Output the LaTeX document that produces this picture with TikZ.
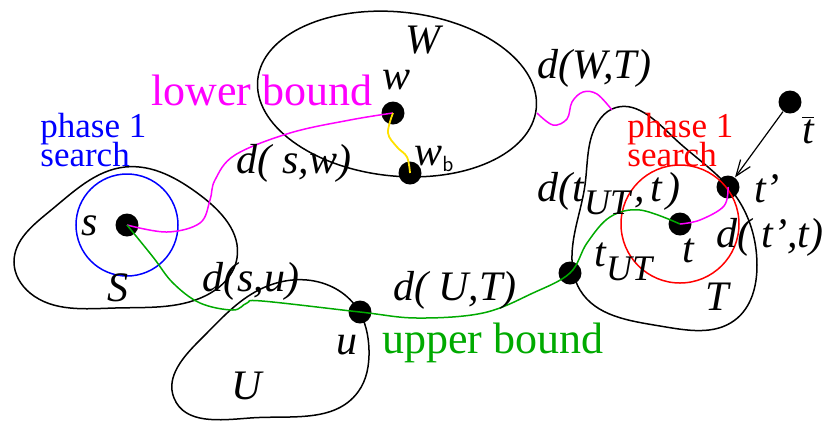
\documentclass[tikz,border=0pt]{standalone}
\usepackage{fontspec}
\setmainfont{Liberation Serif}
\usetikzlibrary{arrows.meta, positioning, hobby}
\definecolor{lowcol}{RGB}{255, 0, 255}
\definecolor{upcol}{RGB}{0, 170, 0}
\definecolor{srccol}{RGB}{0, 0, 255}
\definecolor{tgtcol}{RGB}{255, 0, 0}
\definecolor{bndcol}{RGB}{255, 225, 0}

\begin{document}
\begin{tikzpicture}[
  x=0.5pt, y=-0.5pt,
  use Hobby shortcut,
  region/.style={draw=black, line width=0.75pt},
  vertex/.style={circle, fill=black, inner sep=0pt, minimum size=11.5pt},
  lbl/.style={font=\fontsize{21}{21}\selectfont\itshape, inner sep=0pt},
  word/.style={font=\fontsize{22}{22}\selectfont, inner sep=0pt},
  phase/.style={font=\fontsize{17.5}{11}\selectfont,
                align=left, inner sep=0pt, anchor=north west},
  lowpath/.style={draw=lowcol, line width=0.75pt},
  uppath/.style={draw=upcol, line width=0.75pt},
  arrow/.style={-{Straight Barb[length=8pt, width=6pt]}, line width=0.6pt},
]
  \useasboundingbox (0,0) rectangle (827,420);

  % Regions
  \draw[region, closed=true] (125,167) .. (200,195) .. (237,258) .. (205,296)
    .. (115,308) .. (30,293) .. (14,262) .. (50,211);
  \draw[region, rotate around={-6:(397,94)}] (397,94) ellipse (70pt and 41pt);
  \draw[region, closed=true] (307,280) .. (357,308) .. (369,350) .. (358,392)
    .. (250,418) .. (174,398) .. (200,340) .. (255,292);
  \draw[region, closed=true] (612,109) .. (673,137) .. (735,195) .. (757,265)
    .. (735,320) .. (660,326) .. (580,290) .. (572,255) .. (585,185)
    .. (598,122);

  % Vertices
  \node[vertex] (s) at (127,225) {};
  \node[vertex] (w) at (393,113) {};
  \node[vertex] (wb) at (410,173) {};
  \node[vertex] (u) at (360,312) {};
  \node[vertex] (tut) at (570,273) {};
  \node[vertex] (t) at (680,224) {};
  \node[vertex] (tp) at (728,187) {};
  \node[vertex] (tbar) at (790,102) {};

  % Phase 1 searches
  \draw[srccol, line width=0.75pt] (s.center) circle (25.5pt);
  \draw[tgtcol, line width=0.75pt] (t.center) circle (29.5pt);
  \node[phase, text=srccol] (srcph) at (40,113) {phase 1\\[-2.3pt]search};
  \node[phase, text=tgtcol] (tgtph) at (627,113) {phase 1\\[-2.3pt]search};

  % Lower bound
  \draw[lowpath] plot[smooth, tension=0.6] coordinates {
    (s.center) (167,232) (200,223) (210,200) (215,180) (235,155) (290,133)
    (350,120) (w.center)};
  \draw[bndcol, line width=0.9pt] plot[smooth, tension=0.6] coordinates {
    (w.center) (388,133) (397,147) (407,157) (wb.center)};
  \draw[lowpath] plot[smooth, tension=0.6] coordinates {
    (537,113) (553,125) (567,119) (572,102) (583,92) (597,94) (612,110)};
  \draw[lowpath] plot[smooth, tension=0.6] coordinates {
    (t.center) (700,220) (724,206) (tp.center)};

  % Upper bound
  \draw[uppath] plot[smooth, tension=0.6] coordinates {
    (s.center) (153,257) (173,283) (200,303) (233,310) (247,303) (262,301)
    (u.center) (417,318) (483,313) (533,293) (tut.center) (587,243)
    (610,217) (640,210) (t.center)};

  % Nearest point arrow
  \draw[arrow] (tbar) -- (tp);

  % Labels
  \node[lbl] (Wlab) at (423,40) {W};
  \node[lbl] (wlab) at (397,80) {w};
  \node[lbl, anchor=base west] (wblab) at (414,165) {w\raisebox{-3pt}{\upshape\sffamily\fontsize{11}{11}\selectfont b}};
  \node[word, text=lowcol] (lower) at (262,90) {lower bound};
  \node[lbl] (dWT) at (594,68) {d(W,T)};
  \node[lbl] (dsw) at (294,163) {d( s,w)};
  \node[lbl] (slab) at (90,226) {s};
  \node[lbl] (Slab) at (118,288) {S};
  \node[lbl] (dsu) at (251,281) {d(s,u)};
  \node[lbl] (dUT) at (455,290) {d( U,T)};
  \node[lbl] (ulab) at (347,345) {u};
  \node[word, text=upcol] (upper) at (493,343) {upper bound};
  \node[lbl] (Ulab) at (247,386) {U};
  \node[lbl, anchor=base west] (tutlab) at (594,266) {t\raisebox{-7pt}{\fontsize{18}{18}\selectfont UT}};
  \node[lbl, anchor=base west] (dtut) at (537,201) {d(t\raisebox{-6.5pt}{\fontsize{18}{18}\selectfont UT}\hspace{2pt},\hspace{3pt}t\hspace{2pt})};
  \node[lbl] (tlab) at (688,251) {t};
  \node[lbl] (tplab) at (767,189) {t’};
  \node[lbl] (dtpt) at (770,237) {d( t’,t)};
  \node[lbl] (Tlab) at (717,297) {T};
  \node[lbl] (tbarlab) at (808,130) {$\overline{\mbox{\itshape t}}$};
\end{tikzpicture}
\end{document}
